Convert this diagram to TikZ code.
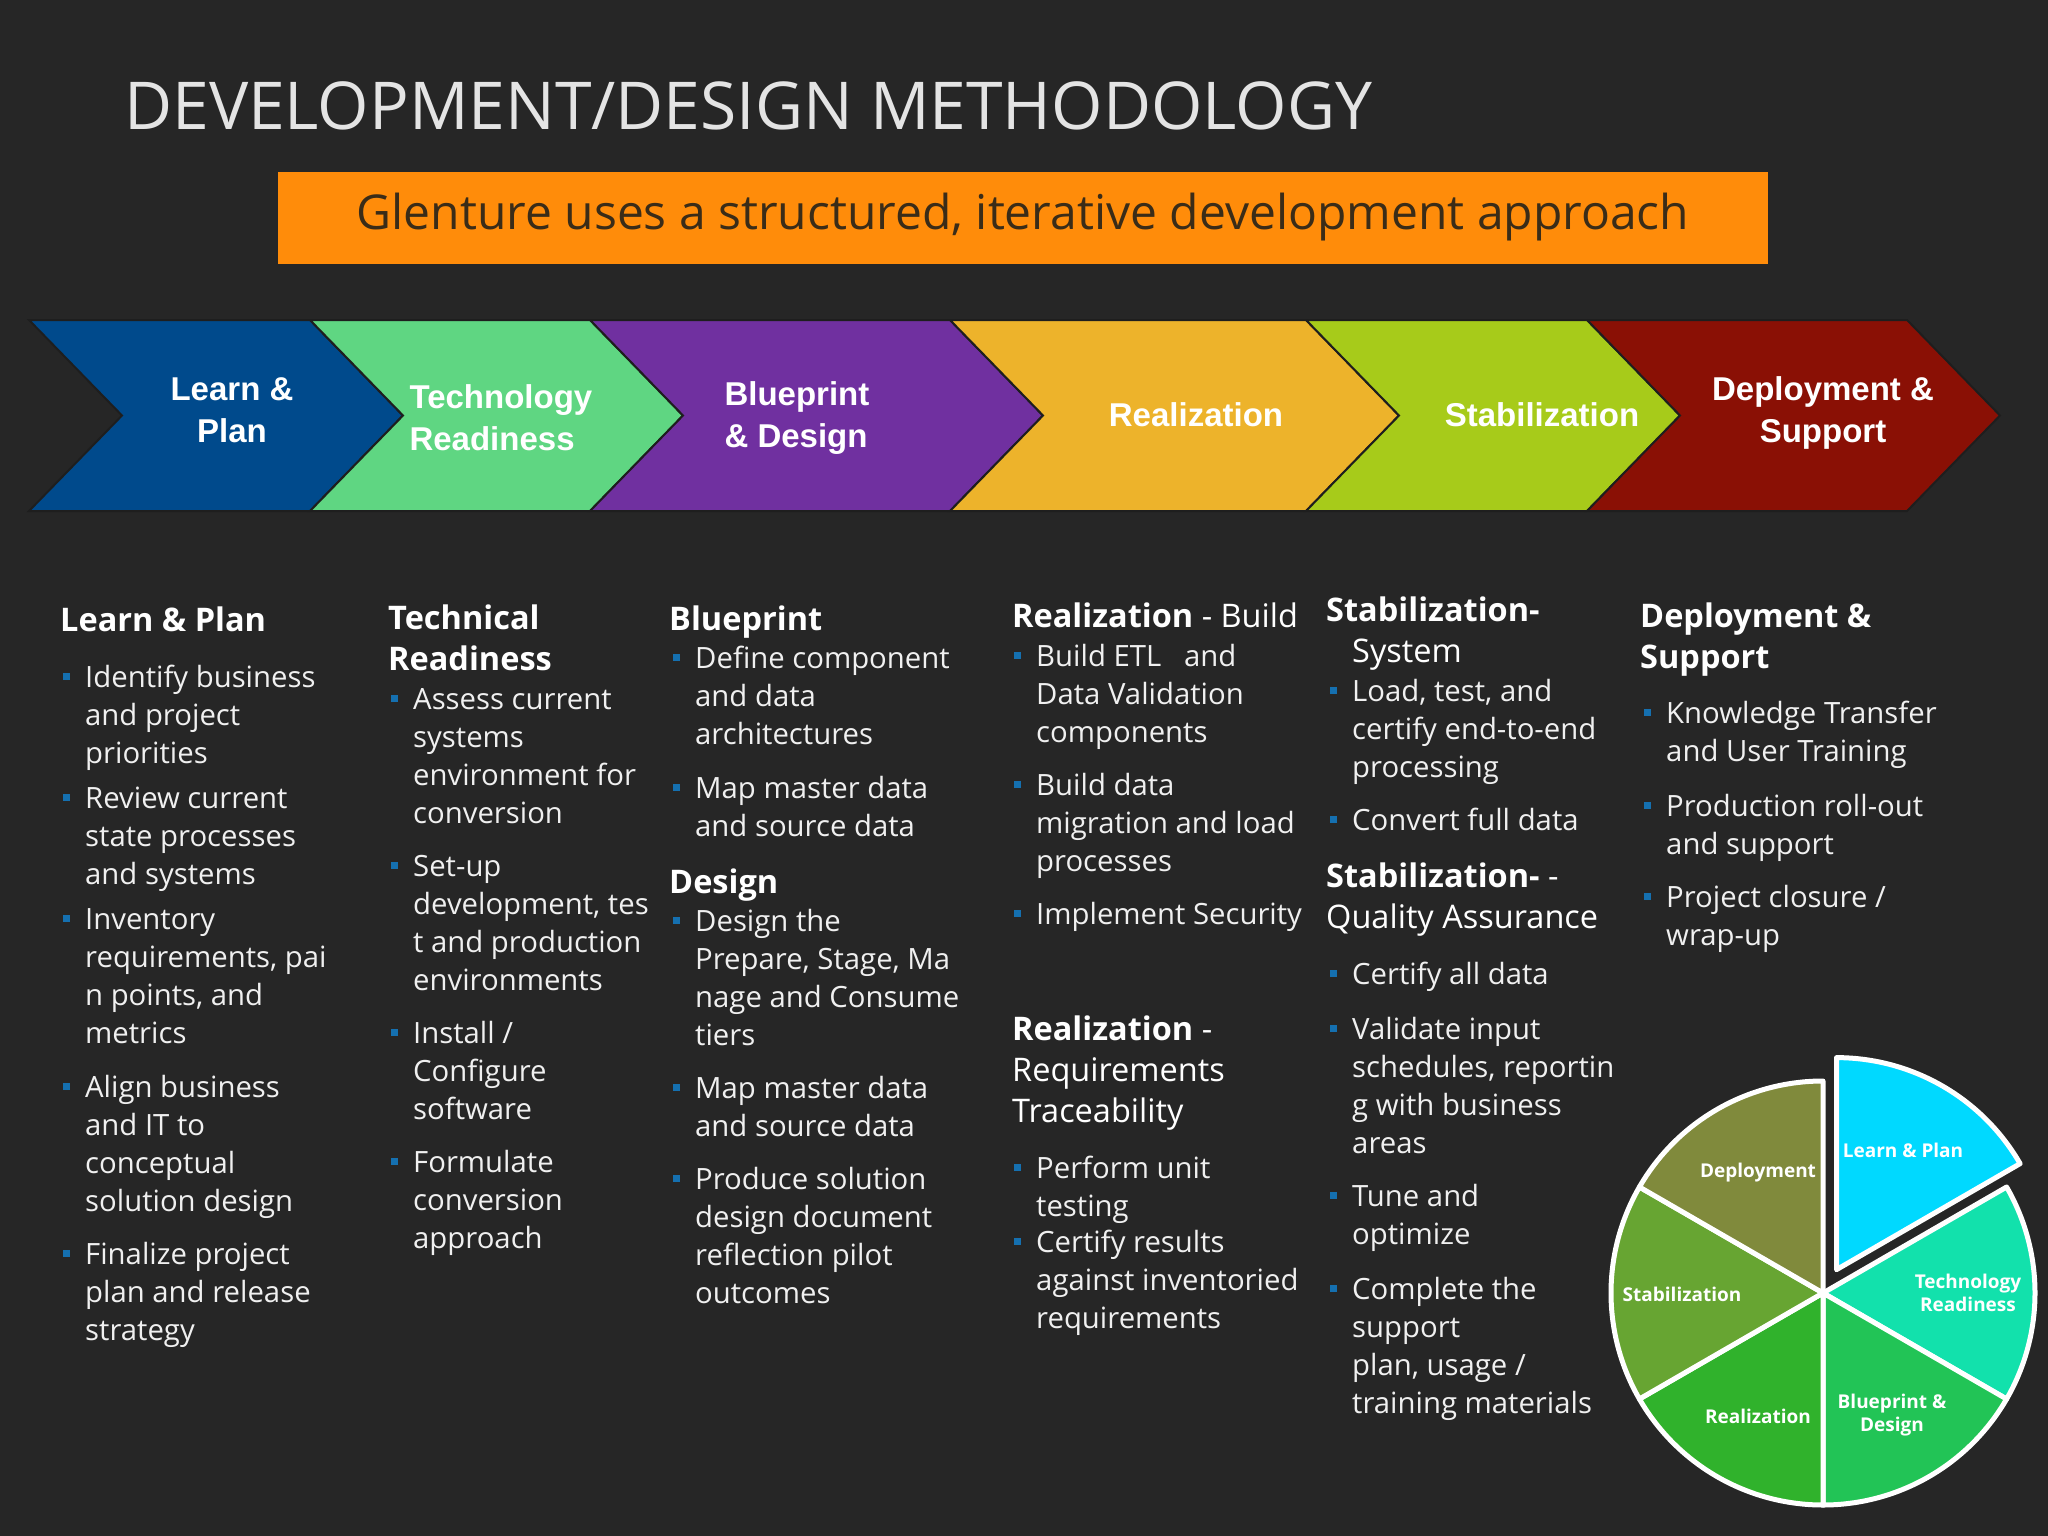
\documentclass[tikz,border=0pt]{standalone}
\usepackage{fontspec}
\setmainfont{Open Sans}
\newfontfamily\arialfont{Liberation Sans}
\usepackage{tikz}

\definecolor{bgdark}{HTML}{262626}
\definecolor{titlegray}{HTML}{E4E4E4}
\definecolor{textgray}{HTML}{F0F0F0}
\definecolor{banner}{HTML}{FF8C0A}
\definecolor{bannertext}{HTML}{3A2C18}
\definecolor{bulletblue}{HTML}{1570B0}
\definecolor{chevedge}{HTML}{1E1E1E}
\definecolor{chevblue}{HTML}{004A8C}
\definecolor{chevgreen}{HTML}{5FD682}
\definecolor{chevpurple}{HTML}{7030A0}
\definecolor{chevyellow}{HTML}{EDB32B}
\definecolor{chevlime}{HTML}{A7CB1A}
\definecolor{chevred}{HTML}{8A1005}
\definecolor{pielearn}{HTML}{00D9FF}
\definecolor{pietech}{HTML}{12E1AC}
\definecolor{pieblue}{HTML}{22C456}
\definecolor{piereal}{HTML}{30B22C}
\definecolor{piestab}{HTML}{67A532}
\definecolor{piedeploy}{HTML}{808A3C}

% bullet square, with a strut so the first line has a fixed height
\newcommand\bul{\strut\llap{{\color{bulletblue}\rule[7pt]{7pt}{7pt}}\hspace{15pt}}}

\tikzset{
  chevlabel/.style={font=\arialfont\bfseries\fontsize{33}{42}\selectfont, text=white, align=center},
  head/.style={anchor=base west, align=left, text=white, font=\fontsize{32.5}{41}\selectfont, inner sep=0},
  item/.style={anchor=north west, yshift=26.6pt, align=left, text=textgray, font=\fontsize{29.3}{38}\selectfont, inner sep=0},
  slicelabel/.style={font=\bfseries\fontsize{19}{23}\selectfont, text=white, align=center},
  slice/.style={draw=white, line width=5, line join=round},
}

\begin{document}
\begin{tikzpicture}[x=1pt, y=-1pt]
  \fill[bgdark] (0,0) rectangle (2048,1536);
  \useasboundingbox (0,0) rectangle (2048,1536);

  % title and banner
  \node[anchor=base west, inner sep=0, text=titlegray, font=\fontsize{66}{72}\selectfont] (title) at (124,130) {DEVELOPMENT/DESIGN METHODOLOGY};
  \fill[banner] (278,172) rectangle (1768,264);
  \node[text=bannertext, font=\fontsize{48}{54}\selectfont] (banner) at (1023,217) {Glenture uses a structured, iterative development approach};

  % chevrons
  \foreach \l/\r/\c in {29/310/chevblue, 310/590/chevgreen, 590/950/chevpurple, 950/1306/chevyellow, 1306/1587/chevlime, 1587/1907/chevred}
    \filldraw[fill=\c, draw=chevedge, line width=2] (\l,320) -- (\r,320) -- ({\r+93},415.5) -- (\r,511) -- (\l,511) -- ({\l+93},415.5) -- cycle;
  \node[chevlabel] (c1) at (232,410) {Learn \&\\Plan};
  \node[chevlabel, align=left, anchor=west] (c2) at (406,418) {Technology\\Readiness};
  \node[chevlabel, align=left, anchor=west] (c3) at (721,418) {Blueprint\\\& Design};
  \node[chevlabel] (c4) at (1196,415) {Realization};
  \node[chevlabel] (c5) at (1542,415) {Stabilization};
  \node[chevlabel] (c6) at (1823,413) {Deployment \&\\Support};

  % column 1
  \node[head] (lp) at (60,631) {\textbf{Learn \& Plan}};
  \node[item] (lp1) at (85,687) {\bul Identify business\\and project\\priorities};
  \node[item] (lp2) at (85,808) {\bul Review current\\state processes\\and systems};
  \node[item] (lp3) at (85,929) {\bul Inventory\\requirements, pai\\n points, and\\metrics};
  \node[item] (lp4) at (85,1097) {\bul Align business\\and IT to\\conceptual\\solution design};
  \node[item] (lp5) at (85,1264) {\bul Finalize project\\plan and release\\strategy};

  % column 2 (base of a head is its last line)
  \node[head] (tr) at (388,670) {\textbf{Technical}\\\textbf{Readiness}};
  \node[item] (tr1) at (413,709) {\bul Assess current\\systems\\environment for\\conversion};
  \node[item] (tr2) at (413,876) {\bul Set-up\\development, tes\\t and production\\environments};
  \node[item] (tr3) at (413,1043) {\bul Install /\\Configure\\software};
  \node[item] (tr4) at (413,1172) {\bul Formulate\\conversion\\approach};

  % column 3
  \node[head] (bp) at (669,630) {\textbf{Blueprint}};
  \node[item] (bp1) at (695,668) {\bul Define component\\and data\\architectures};
  \node[item] (bp2) at (695,798) {\bul Map master data\\and source data};
  \node[head] (ds) at (669,893) {\textbf{Design}};
  \node[item] (ds1) at (695,931) {\bul Design the\\Prepare, Stage, Ma\\nage and Consume\\tiers};
  \node[item] (ds2) at (695,1098) {\bul Map master data\\and source data};
  \node[item] (ds3) at (695,1189) {\bul Produce solution\\design document\\reflection pilot\\outcomes};

  % column 4
  \node[head] (rb) at (1012,627) {\textbf{Realization} - Build};
  \node[item] (rb1) at (1036,666) {\bul Build ETL \ \ and\\Data Validation\\components};
  \node[item] (rb2) at (1036,795) {\bul Build data\\migration and load\\processes};
  \node[item] (rb3) at (1036,924) {\bul Implement Security};
  \node[head] (rr) at (1012,1122) {\textbf{Realization} -\\Requirements\\Traceability};
  \node[item] (rr1) at (1036,1178) {\bul Perform unit\\testing};
  \node[item] (rr2) at (1036,1252) {\bul Certify results\\against inventoried\\requirements};

  % column 5
  \node[head] (ss) at (1326,662) {\textbf{Stabilization-}\\\hspace{26pt}System};
  \node[item] (ss1) at (1352,701) {\bul Load, test, and\\certify end-to-end\\processing};
  \node[item] (ss2) at (1352,830) {\bul Convert full data};
  \node[head] (sq) at (1326,928) {\textbf{Stabilization-} -\\Quality Assurance};
  \node[item] (sq1) at (1352,984) {\bul Certify all data};
  \node[item] (sq2) at (1352,1039) {\bul Validate input\\schedules, reportin\\g with business\\areas};
  \node[item] (sq3) at (1352,1206) {\bul Tune and\\optimize};
  \node[item] (sq4) at (1352,1299) {\bul Complete the\\support\\plan, usage /\\training materials};

  % column 6
  \node[head] (dp) at (1640,668) {\textbf{Deployment \&}\\\textbf{Support}};
  \node[item] (dp1) at (1666,723) {\bul Knowledge Transfer\\and User Training};
  \node[item] (dp2) at (1666,816) {\bul Production roll-out\\and support};
  \node[item] (dp3) at (1666,907) {\bul Project closure /\\wrap-up};

  % pie
  \coordinate (pc) at (1823,1293);
  \filldraw[fill=pielearn, slice] ([shift={(-60:27)}]pc) -- +(-90:212) arc[start angle=-90, end angle=-30, radius=212] -- cycle;
  \foreach \c [count=\i] in {pietech,pieblue,piereal,piestab,piedeploy}
    \filldraw[fill=\c, slice] (pc) -- +({-90+60*\i}:212) arc[start angle={-90+60*\i}, end angle={-30+60*\i}, radius=212] -- cycle;
  \node[slicelabel] (s1) at (1903,1150) {Learn \& Plan};
  \node[slicelabel] (s2) at (1968,1293) {Technology\\Readiness};
  \node[slicelabel] (s3) at (1892,1415) {Blueprint \&\\Design};
  \node[slicelabel] (s4) at (1758,1416) {Realization};
  \node[slicelabel] (s5) at (1682,1294) {Stabilization};
  \node[slicelabel] (s6) at (1758,1173) {Deployment};
\end{tikzpicture}
\end{document}
